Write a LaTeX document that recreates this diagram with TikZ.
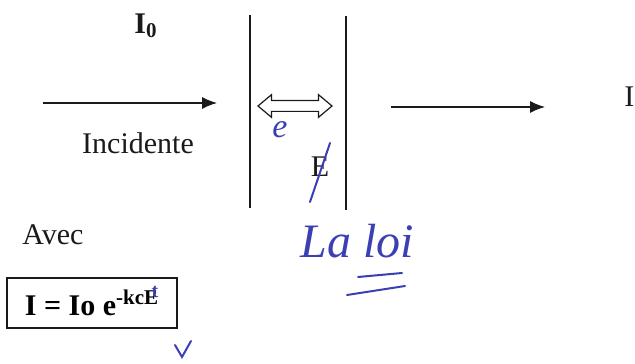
\documentclass[tikz,border=0pt]{standalone}
\usepackage{fontspec}
\setmainfont{Liberation Serif}
\usepackage{xcolor}
\definecolor{inkBlack}{HTML}{1A1A1A}
\definecolor{penBlue}{HTML}{3C3FB4}
\usetikzlibrary{arrows.meta,shapes.arrows}
\tikzset{
  >={Latex[length=7.5pt,width=6pt]},
  every picture/.append style={font=\fontsize{15}{18}\selectfont},
  beam/.style={->,draw=inkBlack,line width=0.6pt},
  wall/.style={draw=inkBlack,line width=0.8pt},
  label/.style={text=inkBlack,inner sep=0pt},
  thick/.style={double arrow,draw=inkBlack,line width=0.6pt,inner sep=2.4pt,
    minimum height=37pt,double arrow head extend=3pt,double arrow tip angle=80},
  formula/.style={draw=inkBlack,line width=0.8pt,minimum width=85pt,minimum height=25pt,
    inner sep=2pt,font=\fontsize{15}{18}\selectfont\bfseries},
  pen/.style={draw=penBlue,line width=1pt,line cap=round},
  pentext/.style={text=penBlue,inner sep=0pt,font=\fontsize{17}{20}\selectfont\itshape},
}
\begin{document}
\begin{tikzpicture}[x=0.5pt,y=0.5pt]
  \useasboundingbox (0,0) rectangle (635,363);

  % incident beam
  \node[label, font=\fontsize{15}{18}\selectfont\bfseries] (izero) at (146,337) {I\textsubscript{0}};
  \coordinate (inStart) at (43,260);
  \coordinate (inEnd) at (217,260);
  \draw[beam] (inStart) -- (inEnd);
  \node[label, anchor=base] (incid) at (138,209) {Incidente};

  % sample walls
  \coordinate (leftTop) at (250,348);
  \coordinate (leftBot) at (250,155);
  \coordinate (rightTop) at (346,347);
  \coordinate (rightBot) at (346,153);
  \draw[wall] (leftTop) -- (leftBot);
  \draw[wall] (rightTop) -- (rightBot);
  \node[thick] (width) at (295,257) {};
  \node[pentext] (ewidth) at (280,233) {e};
  \node[label, anchor=base] (ethick) at (320,186) {E};
  \draw[pen] (310,161) -- (330,220);

  % transmitted beam
  \coordinate (outStart) at (391,256);
  \coordinate (outEnd) at (545,256);
  \draw[beam] (outStart) -- (outEnd);
  \node[label, anchor=base west] (itrans) at (624,256) {I};

  % law
  \node[label, anchor=base west] (avec) at (22,118) {Avec};
  \node[formula] (law) at (92,60) {I = Io e\textsuperscript{-kcE}};
  \node[text=penBlue, font=\fontsize{10}{12}\selectfont\bfseries, inner sep=0pt] (tfix) at (155,71) {t};
  \draw[pen] (175,18) -- (182,6) -- (191,22);

  \node[pentext, font=\fontsize{24}{28}\selectfont\itshape] (laloi) at (357,122) {La loi};
  \draw[pen] (358,86) -- (402,90);
  \draw[pen] (347,68) -- (405,77);
\end{tikzpicture}
\end{document}
